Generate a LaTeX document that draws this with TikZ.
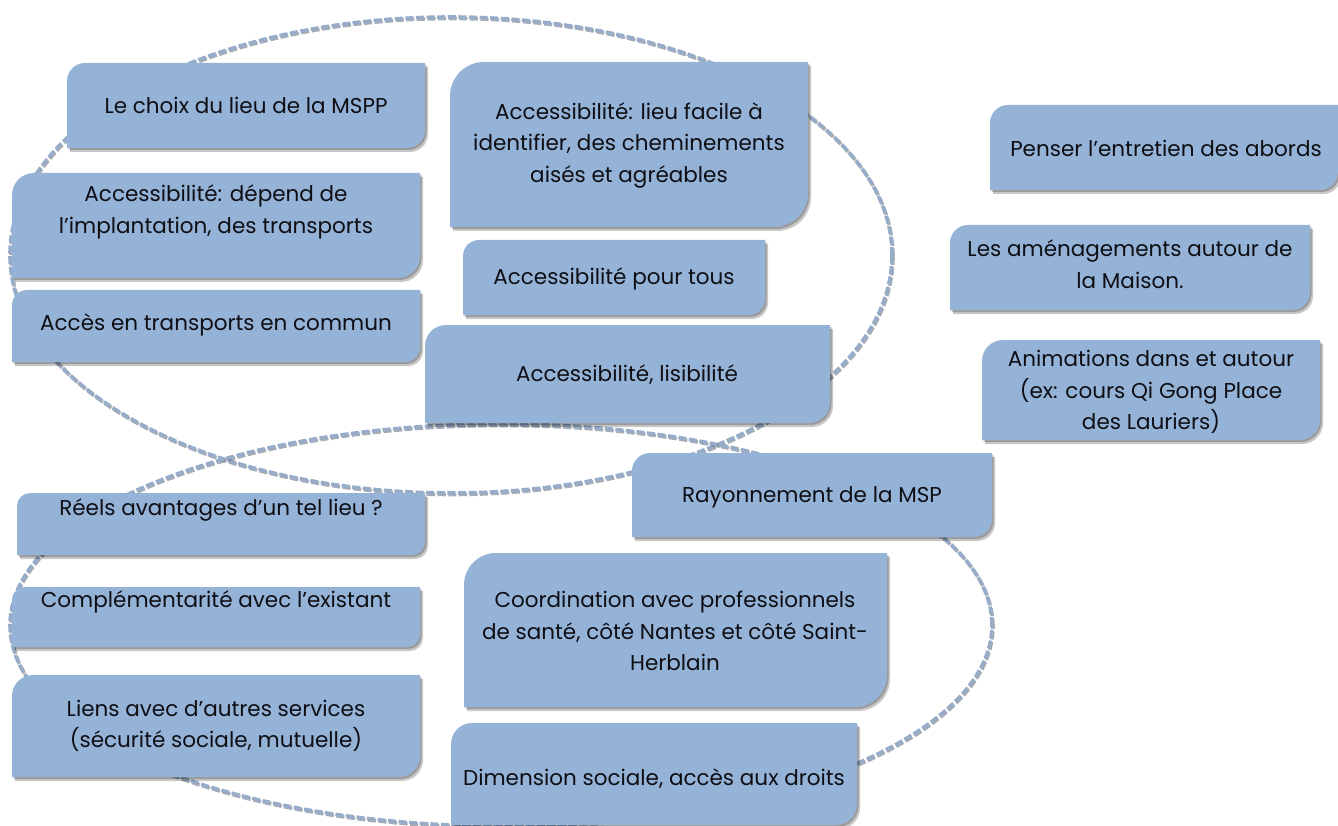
\documentclass[tikz,border=0pt]{standalone}
\usepackage{fontspec}
\setmainfont{Poppins}
\usetikzlibrary{calc}
\definecolor{panelblue}{RGB}{149,179,215}
\definecolor{ringblue}{RGB}{150,172,200}
\definecolor{ringshade}{RGB}{95,105,120}
\definecolor{ink}{RGB}{14,14,20}

\tikzset{
  panelfill/.style={fill=panelblue},
  panelshadow/.style={fill=black,opacity=0.22},
  ring/.style={draw=ringblue,line width=3.6pt,dash pattern=on 8pt off 2.6pt},
  ringshadow/.style={draw=ringshade,opacity=0.55,line width=3.6pt,dash pattern=on 8pt off 2.6pt},
  lbl/.style={font=\fontsize{21.5}{31.5}\selectfont,align=center,text=ink,inner sep=0pt},
}

% rectangle with rounded top-left and bottom-right corners:
% #1 options, #2 left, #3 top, #4 right, #5 bottom, #6 corner radius
\newcommand\panelpath[6]{%
  \fill[#1] (#4,-#3) -- (#4,{-#5+#6}) arc[start angle=0,end angle=-90,radius=#6pt]
    -- (#2,-#5) -- (#2,{-#3-#6}) arc[start angle=180,end angle=90,radius=#6pt] -- cycle;}
\newcommand\panel[5]{%
  \panelpath{panelshadow,shift={(3,-4)}}{#1}{#2}{#3}{#4}{#5}%
  \panelpath{panelshadow,shift={(1.5,-2)}}{#1}{#2}{#3}{#4}{#5}%
  \panelpath{panelfill}{#1}{#2}{#3}{#4}{#5}}

\begin{document}
\begin{tikzpicture}[x=1pt,y=1pt]
\useasboundingbox (0,0) rectangle (1338,-826);

% the two dashed groupings
\draw[ringshadow] (452,-256.5) ellipse[x radius=441pt,y radius=238pt];
\draw[ring] (451,-255) ellipse[x radius=441pt,y radius=238pt];
\draw[ringshadow] (502,-626.5) ellipse[x radius=491pt,y radius=201pt];
\draw[ring] (501,-625) ellipse[x radius=491pt,y radius=201pt];

% panels
\panel{67}{63}{425}{148}{18}
\panel{12}{173}{420}{278}{22}
\panel{12}{290}{420}{362}{15}
\panel{450}{62}{808}{227}{34}
\panel{463}{240}{765}{315}{16}
\panel{425}{325}{830}{423}{21}
\panel{17}{493}{425}{555}{13}
\panel{12}{587}{420}{647}{13}
\panel{12}{675}{420}{777}{21}
\panel{632}{453}{992}{537}{18}
\panel{464}{553}{887}{707}{32}
\panel{451}{723}{857}{825}{21}
\panel{990}{105}{1338}{190}{18}
\panel{950}{225}{1310}{310}{18}
\panel{982}{340}{1320}{440}{21}

% labels
\node[lbl] (choix) at (246,-105) {Le choix du lieu de la MSPP};
\node[lbl] (depend) at (216,-212) {Accessibilité: dépend de\\l’implantation, des transports};
\node[lbl] (transports) at (216,-325) {Accès en transports en commun};
\node[lbl] (facile) at (629,-145) {Accessibilité: lieu facile à\\identifier, des cheminements\\aisés et agréables};
\node[lbl] (tous) at (614,-279) {Accessibilité pour tous};
\node[lbl] (lisibilite) at (627,-375) {Accessibilité, lisibilité};
\node[lbl] (avantages) at (221,-510) {Réels avantages d’un tel lieu ?};
\node[lbl] (complement) at (216,-602) {Complémentarité avec l’existant};
\node[lbl] (liens) at (216,-726) {Liens avec d’autres services\\(sécurité sociale, mutuelle)};
\node[lbl] (rayonnement) at (812,-497) {Rayonnement de la MSP};
\node[lbl] (coordination) at (675,-631) {Coordination avec professionnels\\de santé, côté Nantes et côté Saint-\\Herblain};
\node[lbl] (social) at (654,-779) {Dimension sociale, accès aux droits};
\node[lbl] (abords) at (1166,-148) {Penser l’entretien des abords};
\node[lbl] (amenagements) at (1130,-264) {Les aménagements autour de\\la Maison.};
\node[lbl] (animations) at (1151,-392) {Animations dans et autour\\(ex: cours Qi Gong Place\\des Lauriers)};
\end{tikzpicture}
\end{document}
